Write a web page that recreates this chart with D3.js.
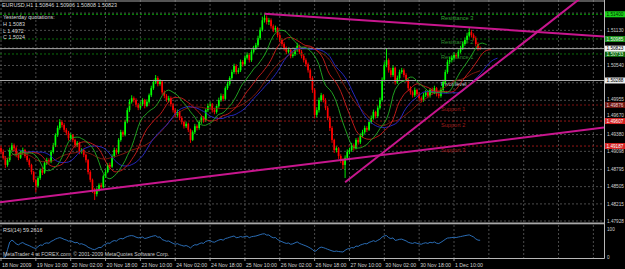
<!DOCTYPE html>
<html>
<head>
<meta charset="utf-8">
<script src="https://cdn.jsdelivr.net/npm/d3@7"></script>
<style>
  body { margin: 0; background: #000; }
  svg { display: block; font-family: "Liberation Sans", Arial, sans-serif; }
</style>
</head>
<body>
<div id="chart"></div>
<script>
// EURUSD H1 bars, 18 Nov 2009 18:00 .. 1 Dec 2009 22:00 (open = previous close)
const firstOpen = 1.4915;
const closes = [
  1.4909,1.4899,1.4887,1.4895,1.4912,1.4920,1.4915,1.4904,1.4899,1.4907,
  1.4912,1.4902,1.4895,1.4887,1.4875,1.4862,1.4852,1.4865,1.4878,1.4874,
  1.4890,1.4895,1.4892,1.4909,1.4920,1.4937,1.4949,1.4959,1.4954,1.4946,
  1.4941,1.4932,1.4937,1.4929,1.4920,1.4924,1.4909,1.4912,1.4904,1.4895,
  1.4875,1.4862,1.4845,1.4838,1.4845,1.4853,1.4850,1.4868,1.4875,1.4887,
  1.4884,1.4902,1.4912,1.4908,1.4929,1.4942,1.4938,1.4960,1.4979,1.4993,
  1.4999,1.4996,1.4988,1.4983,1.4989,1.4996,1.4986,1.4993,1.5004,1.5016,
  1.5026,1.5033,1.5023,1.5027,1.5009,1.5003,1.4996,1.4999,1.4989,1.4979,
  1.4971,1.4976,1.4966,1.4959,1.4952,1.4956,1.4946,1.4929,1.4942,1.4952,
  1.4949,1.4959,1.4966,1.4962,1.4979,1.4986,1.4989,1.4979,1.4976,1.4986,
  1.4996,1.5003,1.4998,1.5016,1.5023,1.5033,1.5043,1.5053,1.5043,1.5046,
  1.5060,1.5056,1.5067,1.5072,1.5063,1.5077,1.5083,1.5088,1.5100,1.5114,
  1.5130,1.5134,1.5127,1.5130,1.5120,1.5114,1.5117,1.5105,1.5097,1.5090,
  1.5083,1.5077,1.5080,1.5070,1.5073,1.5080,1.5087,1.5077,1.5070,1.5063,
  1.5056,1.5046,1.5033,1.5013,1.4971,1.4979,1.4996,1.5004,1.4996,1.4983,
  1.4966,1.4949,1.4929,1.4912,1.4915,1.4902,1.4895,1.4887,1.4899,1.4909,
  1.4912,1.4920,1.4915,1.4929,1.4925,1.4936,1.4942,1.4949,1.4946,1.4959,
  1.4966,1.4976,1.4969,1.4983,1.4996,1.5030,1.5055,1.5063,1.5046,1.5038,
  1.5050,1.5026,1.5033,1.5043,1.5046,1.5038,1.5030,1.5016,1.5009,1.5004,
  1.5013,1.5006,1.4999,1.4996,1.5004,1.5009,1.5003,1.5013,1.5009,1.5016,
  1.5006,1.5003,1.5013,1.5026,1.5043,1.5060,1.5063,1.5067,1.5072,1.5070,
  1.5077,1.5083,1.5090,1.5097,1.5104,1.5110,1.5105,1.5100,1.5090,1.5083,1.5082
];
const highs = [
  1.4919,1.4913,1.4902,1.4899,1.4916,1.4924,1.4923,1.4918,1.4907,1.4911,
  1.4916,1.4914,1.4905,1.4898,1.4889,1.4877,1.4864,1.4868,1.4881,1.4883,
  1.4893,1.4899,1.4898,1.4912,1.4924,1.4940,1.4953,1.4964,1.4962,1.4957,
  1.4949,1.4944,1.4940,1.4939,1.4931,1.4927,1.4926,1.4915,1.4914,1.4906,
  1.4897,1.4878,1.4864,1.4848,1.4849,1.4856,1.4857,1.4871,1.4879,1.4890,
  1.4891,1.4905,1.4916,1.4915,1.4932,1.4946,1.4945,1.4963,1.4983,1.4997,
  1.5004,1.5002,1.4999,1.4991,1.4993,1.4999,1.4998,1.4997,1.5007,1.5020,
  1.5030,1.5038,1.5036,1.5031,1.5029,1.5012,1.5006,1.5003,1.5002,1.4991,
  1.4982,1.4980,1.4978,1.4969,1.4961,1.4960,1.4958,1.4948,1.4945,1.4956,
  1.4955,1.4962,1.4970,1.4969,1.4982,1.4990,1.4993,1.4991,1.4983,1.4989,
  1.5000,1.5007,1.5006,1.5019,1.5027,1.5036,1.5047,1.5057,1.5056,1.5050,
  1.5064,1.5063,1.5071,1.5076,1.5075,1.5081,1.5087,1.5092,1.5104,1.5118,
  1.5136,1.5141,1.5138,1.5134,1.5133,1.5123,1.5121,1.5119,1.5108,1.5100,
  1.5093,1.5086,1.5084,1.5083,1.5077,1.5084,1.5092,1.5089,1.5080,1.5073,
  1.5066,1.5059,1.5049,1.5036,1.5016,1.4984,1.5000,1.5008,1.5006,1.4999,
  1.4986,1.4969,1.4952,1.4931,1.4919,1.4917,1.4905,1.4898,1.4903,1.4913,
  1.4916,1.4924,1.4923,1.4932,1.4933,1.4940,1.4946,1.4953,1.4952,1.4963,
  1.4970,1.4980,1.4978,1.4987,1.5000,1.5034,1.5060,1.5083,1.5066,1.5050,
  1.5054,1.5052,1.5037,1.5047,1.5050,1.5049,1.5041,1.5032,1.5019,1.5012,
  1.5017,1.5015,1.5009,1.5002,1.5008,1.5013,1.5012,1.5016,1.5017,1.5020,
  1.5018,1.5010,1.5017,1.5030,1.5047,1.5064,1.5068,1.5071,1.5076,1.5075,
  1.5081,1.5087,1.5094,1.5101,1.5109,1.5117,1.5114,1.5108,1.5103,1.5093,1.5086
];
const lows = [
  1.4905,1.4896,1.4882,1.4884,1.4892,1.4909,1.4911,1.4900,1.4895,1.4897,
  1.4904,1.4899,1.4892,1.4883,1.4871,1.4858,1.4841,1.4849,1.4862,1.4870,
  1.4872,1.4887,1.4888,1.4890,1.4906,1.4917,1.4934,1.4946,1.4950,1.4942,
  1.4937,1.4928,1.4929,1.4925,1.4916,1.4917,1.4905,1.4906,1.4900,1.4891,
  1.4871,1.4858,1.4840,1.4828,1.4834,1.4842,1.4846,1.4848,1.4865,1.4873,
  1.4880,1.4882,1.4899,1.4904,1.4905,1.4926,1.4934,1.4935,1.4957,1.4976,
  1.4990,1.4992,1.4984,1.4979,1.4980,1.4986,1.4982,1.4984,1.4990,1.5001,
  1.5013,1.5023,1.5019,1.5020,1.5005,1.4999,1.4993,1.4992,1.4985,1.4975,
  1.4967,1.4968,1.4962,1.4955,1.4948,1.4949,1.4942,1.4924,1.4927,1.4939,
  1.4945,1.4946,1.4956,1.4958,1.4959,1.4976,1.4983,1.4975,1.4972,1.4973,
  1.4983,1.4993,1.4994,1.4996,1.5013,1.5020,1.5030,1.5040,1.5039,1.5040,
  1.5043,1.5052,1.5053,1.5064,1.5059,1.5060,1.5074,1.5080,1.5085,1.5097,
  1.5111,1.5126,1.5123,1.5122,1.5116,1.5110,1.5110,1.5101,1.5093,1.5086,
  1.5079,1.5073,1.5074,1.5066,1.5067,1.5070,1.5077,1.5073,1.5066,1.5059,
  1.5052,1.5042,1.5029,1.5008,1.4965,1.4967,1.4975,1.4993,1.4992,1.4979,
  1.4962,1.4944,1.4924,1.4907,1.4908,1.4897,1.4890,1.4880,1.4865,1.4896,
  1.4905,1.4909,1.4911,1.4913,1.4921,1.4922,1.4933,1.4939,1.4942,1.4944,
  1.4956,1.4963,1.4965,1.4966,1.4980,1.4993,1.5027,1.5051,1.5042,1.5034,
  1.5035,1.5022,1.5023,1.5030,1.5040,1.5034,1.5026,1.5012,1.5005,1.5000,
  1.5001,1.5002,1.4995,1.4992,1.4993,1.5001,1.4999,1.5000,1.5005,1.5006,
  1.5002,1.4999,1.5000,1.5010,1.5023,1.5040,1.5056,1.5059,1.5063,1.5066,
  1.5067,1.5074,1.5080,1.5087,1.5094,1.5101,1.5101,1.5096,1.5086,1.5079,1.5080
];

// time axis: a label every 16 bars
const timeLabels = ["18 Nov 2009","19 Nov 10:00","20 Nov 02:00","20 Nov 18:00","23 Nov 10:00",
  "24 Nov 02:00","24 Nov 18:00","25 Nov 10:00","26 Nov 02:00","26 Nov 18:00","27 Nov 10:00",
  "30 Nov 02:00","30 Nov 18:00","1 Dec 10:00"];
const priceTicks = [1.47928,1.48215,1.48505,1.48795,1.49098,1.49380,1.49670,1.49955,
  1.50250,1.50540,1.50835,1.51130,1.51420];

// pivot levels drawn on the chart
const levelNames = ["Resistance 3","Resistance 2","Resistance 1","Pivot level","Support 1","Support 2","Support 3"];
const levelPrices = [1.51400,1.50985,1.50733,1.50288,1.49876,1.49607,1.49187];
const bidPrice = 1.50823;

// trend lines: two anchors [bar, price] each
const trendUpper = [[121, 1.5141], [215, 1.5118]];
const trendSteep = [[158, 1.4858], [250, 1.5121]];
const trendLong  = [[43, 1.4844], [158, 1.4896]];

const titleText = "EURUSD,H1  1.50846 1.50906 1.50808 1.50823";
const yesterday = ["Yesterday quotations:", "H 1.5083", "L 1.4972", "C 1.5024"];
const rsiText = "RSI(14) 59.2616";

const W = 625, H = 269;
const paneRight = 604, mainBottom = 222, rsiTop = 225, axisY = 258.5;

const x = d3.scaleLinear().domain([0, 208]).range([1, 454]);
const y = d3.scaleLinear().domain([1.47928, 1.5164]).range([221, 0]);
const yRsi = d3.scaleLinear().domain([0, 100]).range([257, 229]);

const bars = closes.map((c, i) => ({
  i, c, o: i ? closes[i - 1] : firstOpen, h: highs[i], l: lows[i]
}));

// indicators
function smma(src, n) {
  const out = [];
  let v = src[0];
  src.forEach((p, i) => { v = i === 0 ? p : (v * (n - 1) + p) / n; out.push(v); });
  return out;
}
function sma(src, n) {
  return src.map((_, i) => d3.mean(src.slice(Math.max(0, i - n + 1), i + 1)));
}
function rsi(src, n) {
  const out = [];
  let ag = 0, al = 0;
  for (let i = 1; i < src.length; i++) {
    const d = src[i] - src[i - 1];
    const k = Math.min(i, n);
    ag = (ag * (k - 1) + Math.max(d, 0)) / k;
    al = (al * (k - 1) + Math.max(-d, 0)) / k;
    out.push({ i, v: al === 0 ? 100 : 100 - 100 / (1 + ag / al) });
  }
  return out;
}
const median = bars.map(b => (b.h + b.l) / 2);
const jaw = smma(median, 13).map((v, i) => ({ i: i + 8, v }));
const teeth = smma(median, 8).map((v, i) => ({ i: i + 5, v }));
const lips = smma(median, 5).map((v, i) => ({ i: i + 3, v }));
const ma34 = sma(closes, 34).map((v, i) => ({ i, v }));
const rsiData = rsi(closes, 14);

const svg = d3.select("#chart").append("svg").attr("width", W).attr("height", H);
svg.append("rect").attr("width", W).attr("height", H).attr("fill", "#000");

svg.append("clipPath").attr("id", "mainClip")
  .append("rect").attr("x", 0).attr("y", 0).attr("width", paneRight).attr("height", mainBottom);

const grid = svg.append("g").attr("stroke", "#5e5e5e").attr("stroke-width", 0.8)
  .attr("stroke-dasharray", "2,2");
const gridIdx = d3.range(0, x.invert(paneRight), 16);
gridIdx.forEach(i => {
  grid.append("line").attr("x1", x(i)).attr("x2", x(i)).attr("y1", 0).attr("y2", mainBottom);
  grid.append("line").attr("x1", x(i)).attr("x2", x(i)).attr("y1", rsiTop).attr("y2", axisY);
});
priceTicks.forEach(p => {
  grid.append("line").attr("x1", 0).attr("x2", paneRight).attr("y1", y(p)).attr("y2", y(p));
});

// level labels sit behind the bars
const levelStroke = ["#00b800", "#0d7a0d", "#0d7a0d", "#a8a8a8", "#8a1414", "#a51818", "#a51818"];
const levelText = ["#33a033", "#2f8a2f", "#2f8a2f", "#d0d0d0", "#a01c1c", "#a01c1c", "#a01c1c"];
const main = svg.append("g").attr("clip-path", "url(#mainClip)");
levelNames.forEach((name, k) => {
  main.append("text").attr("x", 441).attr("y", y(levelPrices[k]) + 5.5)
    .attr("font-size", 5.6).attr("fill", levelText[k]).text(name);
});

// candles
const candles = main.append("g");
candles.selectAll("line").data(bars).join("line")
  .attr("x1", d => x(d.i)).attr("x2", d => x(d.i))
  .attr("y1", d => y(d.h)).attr("y2", d => y(d.l))
  .attr("stroke", d => d.c >= d.o ? "#00ff00" : "#ff0000").attr("stroke-width", 0.9);
candles.selectAll("rect").data(bars).join("rect")
  .attr("x", d => x(d.i) - 0.85).attr("width", 1.7)
  .attr("y", d => y(Math.max(d.o, d.c)))
  .attr("height", d => Math.max(0.8, Math.abs(y(d.o) - y(d.c))))
  .attr("fill", d => d.c >= d.o ? "#00ff00" : "#ff0000");

// level lines
levelPrices.forEach((p, k) => {
  main.append("line").attr("x1", 0).attr("x2", paneRight).attr("y1", y(p)).attr("y2", y(p))
    .attr("stroke", levelStroke[k]).attr("stroke-width", k === 3 ? 1.2 : 0.9)
    .attr("stroke-dasharray", k === 3 ? null : "2,2");
});
main.append("line").attr("x1", 0).attr("x2", paneRight).attr("y1", y(bidPrice)).attr("y2", y(bidPrice))
  .attr("stroke", "#a8a8a8").attr("stroke-width", 1);
main.append("line").attr("x1", 0).attr("x2", paneRight).attr("y1", 1).attr("y2", 1)
  .attr("stroke", "#a8a8a8").attr("stroke-width", 1);

// moving averages
const maLine = d3.line().x(d => x(d.i)).y(d => y(d.v));
[[ma34, "#8c1c10"], [jaw, "#2a2ad0"], [teeth, "#d01c1c"], [lips, "#22b022"]].forEach(([data, col]) => {
  main.append("path").datum(data).attr("d", maLine)
    .attr("fill", "none").attr("stroke", col).attr("stroke-width", 0.9);
});

// trend lines
function drawTrend(pts, from, to) {
  const [[i1, p1], [i2, p2]] = pts;
  const slope = (p2 - p1) / (i2 - i1);
  main.append("line")
    .attr("x1", x(from)).attr("y1", y(p1 + (from - i1) * slope))
    .attr("x2", x(to)).attr("y2", y(p1 + (to - i1) * slope))
    .attr("stroke", "#c8168e").attr("stroke-width", 2);
}
const iLeft = x.invert(0), iRight = x.invert(paneRight);
drawTrend(trendUpper, trendUpper[0][0], iRight);
drawTrend(trendSteep, trendSteep[0][0], iRight);
drawTrend(trendLong, iLeft, iRight);

// header text
const txt = svg.append("g").attr("fill", "#d8d8d8").attr("font-size", 5.4);
txt.append("text").attr("x", 2).attr("y", 7).text(titleText);
yesterday.forEach((t, k) => txt.append("text").attr("x", 3).attr("y", 19 + k * 6.8).text(t));

// pane separator and axes
svg.append("rect").attr("x", 0).attr("y", mainBottom + 0.5).attr("width", paneRight).attr("height", 1.8)
  .attr("fill", "#a8a8a8");
svg.append("line").attr("x1", paneRight + 0.5).attr("x2", paneRight + 0.5).attr("y1", 0).attr("y2", axisY)
  .attr("stroke", "#b8b8b8").attr("stroke-width", 1);
svg.append("line").attr("x1", 0).attr("x2", paneRight + 0.5).attr("y1", axisY).attr("y2", axisY)
  .attr("stroke", "#b8b8b8").attr("stroke-width", 1);

// price axis labels: hidden when a coloured box sits on them, nudged when one is close
const boxPrices = levelPrices.concat([bidPrice]);
const axisTxt = svg.append("g").attr("fill", "#d0d0d0").attr("font-size", 4.7);
priceTicks.forEach(p => {
  let ty = y(p);
  let hidden = false;
  boxPrices.forEach(b => {
    const d = ty - y(b);
    if (Math.abs(d) < 2.5) hidden = true;
    else if (Math.abs(d) < 5.6) ty = y(b) + Math.sign(d) * 5.6;
  });
  if (!hidden) axisTxt.append("text").attr("x", 607).attr("y", ty + 1.7).text(p.toFixed(5));
});

// coloured price boxes for the levels and the bid
const boxFill = ["#19d219", "#1d8f1d", "#0b620b", "#ececec", "#6a1410", "#d42222", "#d42222"];
const boxText = ["#002800", "#e8ffe8", "#e0ffe0", "#000", "#f0d0d0", "#fff", "#fff"];
function priceBox(p, fill, col) {
  svg.append("rect").attr("x", 605).attr("y", y(p) - 3).attr("width", 20).attr("height", 6).attr("fill", fill);
  svg.append("text").attr("x", 606.5).attr("y", y(p) + 1.7).attr("font-size", 4.7)
    .attr("fill", col).text(p.toFixed(5));
}
levelPrices.forEach((p, k) => priceBox(p, boxFill[k], boxText[k]));
priceBox(bidPrice, "#f4f4f4", "#000");

// RSI pane
const rsiLine = d3.line().x(d => x(d.i)).y(d => yRsi(d.v));
svg.append("path").datum(rsiData).attr("d", rsiLine)
  .attr("fill", "none").attr("stroke", "#2f78c8").attr("stroke-width", 0.9);
svg.append("text").attr("x", 3).attr("y", 232).attr("font-size", 5.4).attr("fill", "#d8d8d8").text(rsiText);
svg.append("text").attr("x", 3).attr("y", 256).attr("font-size", 5.2).attr("fill", "#c8c8c8")
  .text("MetaTrader 4 at FOREX.com, \u00a9 2001-2009 MetaQuotes Software Corp.");
axisTxt.append("text").attr("x", 607).attr("y", yRsi(100) + 1.7).text("100");
axisTxt.append("text").attr("x", 607).attr("y", yRsi(0) + 1.7).text("0");

// time axis
const tAxis = svg.append("g").attr("fill", "#d0d0d0").attr("font-size", 5.2);
timeLabels.forEach((t, k) => {
  const xi = x(k * 16);
  svg.append("line").attr("x1", xi).attr("x2", xi).attr("y1", axisY).attr("y2", axisY + 2.5)
    .attr("stroke", "#b8b8b8").attr("stroke-width", 0.8);
  tAxis.append("text").attr("x", xi + 1).attr("y", 266.5).text(t);
});
</script>
</body>
</html>
